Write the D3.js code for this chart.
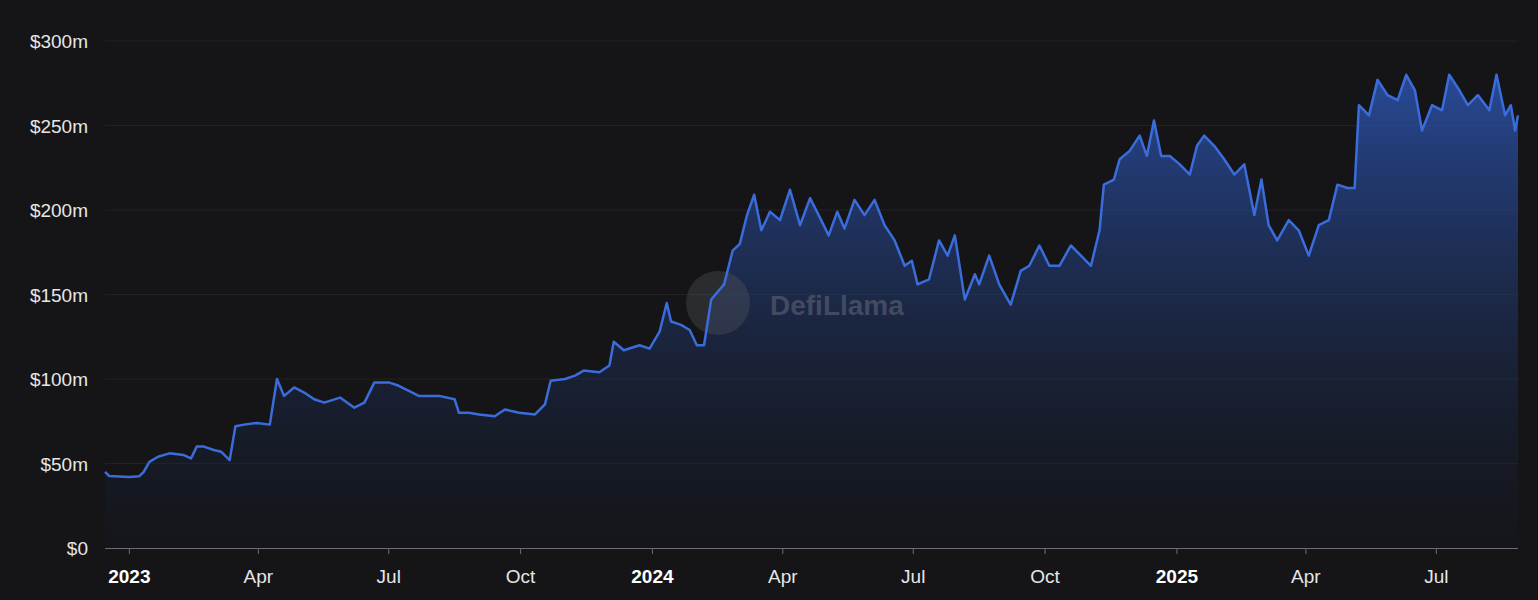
<!DOCTYPE html>
<html><head><meta charset="utf-8">
<script src="https://cdn.jsdelivr.net/npm/d3@7"></script>
<style>body{margin:0;background:#151517;}svg{display:block;font-family:"Liberation Sans","Helvetica",Arial,sans-serif;}</style>
</head><body><svg id="c" width="1538" height="600"></svg>
<script>
const dates=["2022-12-15","2022-12-18","2023-01-01","2023-01-08","2023-01-11","2023-01-15","2023-01-21","2023-01-29","2023-02-08","2023-02-13","2023-02-17","2023-02-22","2023-03-01","2023-03-06","2023-03-12","2023-03-16","2023-03-22","2023-03-31","2023-04-09","2023-04-14","2023-04-19","2023-04-26","2023-05-03","2023-05-10","2023-05-17","2023-05-28","2023-06-07","2023-06-14","2023-06-21","2023-07-01","2023-07-08","2023-07-15","2023-07-22","2023-08-05","2023-08-16","2023-08-19","2023-08-26","2023-09-02","2023-09-13","2023-09-20","2023-09-30","2023-10-11","2023-10-18","2023-10-22","2023-11-01","2023-11-08","2023-11-14","2023-11-25","2023-12-02","2023-12-05","2023-12-12","2023-12-23","2023-12-30","2024-01-06","2024-01-11","2024-01-14","2024-01-21","2024-01-27","2024-02-01","2024-02-06","2024-02-11","2024-02-15","2024-02-20","2024-02-26","2024-03-02","2024-03-07","2024-03-12","2024-03-17","2024-03-23","2024-03-30","2024-04-06","2024-04-13","2024-04-20","2024-04-26","2024-05-03","2024-05-09","2024-05-14","2024-05-21","2024-05-28","2024-06-04","2024-06-11","2024-06-18","2024-06-25","2024-06-30","2024-07-04","2024-07-12","2024-07-19","2024-07-25","2024-07-30","2024-08-06","2024-08-13","2024-08-16","2024-08-23","2024-08-30","2024-09-07","2024-09-14","2024-09-20","2024-09-27","2024-10-04","2024-10-11","2024-10-19","2024-10-26","2024-11-02","2024-11-08","2024-11-11","2024-11-18","2024-11-22","2024-11-29","2024-12-06","2024-12-11","2024-12-16","2024-12-21","2024-12-27","2025-01-03","2025-01-10","2025-01-15","2025-01-20","2025-01-27","2025-02-03","2025-02-10","2025-02-17","2025-02-24","2025-03-01","2025-03-06","2025-03-12","2025-03-20","2025-03-27","2025-04-03","2025-04-10","2025-04-17","2025-04-23","2025-04-30","2025-05-05","2025-05-08","2025-05-15","2025-05-21","2025-05-28","2025-06-04","2025-06-10","2025-06-16","2025-06-21","2025-06-28","2025-07-05","2025-07-10","2025-07-17","2025-07-23","2025-07-30","2025-08-07","2025-08-12","2025-08-18","2025-08-22","2025-08-25","2025-08-27"];
const tvl=[45,42.6,42,42.5,45,51,54,56,55,53,60,60,58,57,52,72,73,74,73,100,90,95,92,88,86,89,83,86,98,98,96,93,90,90,88,80,80,79,78,82,80,79,85,99,100,102,105,104,108,122,117,120,118,128,145,134,132,129,120,120,147,151,156,176,180,197,209,188,199,194,212,191,207,197,185,199,189,206,197,206,191,182,167,170,156,159,182,173,185,147,162,156,173,156,144,164,167,179,167,167,179,173,167,188,215,218,230,235,244,232,253,232,232,227,221,238,244,238,230,221,227,197,218,191,182,194,188,173,191,194,215,213,213,262,256,277,268,265,280,271,247,262,259,280,271,262,268,259,280,256,262,247,256];
const yTicks=[0,50,100,150,200,250,300];
const yLabels=["$0","$50m","$100m","$150m","$200m","$250m","$300m"];
const xTicks=["2023-01-01","2023-04-01","2023-07-01","2023-10-01","2024-01-01","2024-04-01","2024-07-01","2024-10-01","2025-01-01","2025-04-01","2025-07-01"];
const xLabels=["2023","Apr","Jul","Oct","2024","Apr","Jul","Oct","2025","Apr","Jul"];

const p=d3.utcParse("%Y-%m-%d");
const data=dates.map((d,i)=>({d:p(d),v:tvl[i]}));
const svg=d3.select("#c");
const x=d3.scaleUtc().domain(d3.extent(data,d=>d.d)).range([105,1518]);
const y=d3.scaleLinear().domain([0,300]).range([548,41]);

const defs=svg.append("defs");
const g=defs.append("linearGradient").attr("id","gr").attr("x1",0).attr("y1",0).attr("x2",0).attr("y2",1);
g.append("stop").attr("offset","0%").attr("stop-color","#2f5bc0").attr("stop-opacity",0.75);
g.append("stop").attr("offset","100%").attr("stop-color","#141a2a").attr("stop-opacity",0.2);

yTicks.forEach((t,i)=>{
  svg.append("line").attr("x1",105).attr("x2",1518).attr("y1",y(t)).attr("y2",y(t)).attr("stroke","#2a2b30").attr("stroke-width",1).attr("opacity",i?0.6:0);
  svg.append("text").attr("x",88).attr("y",y(t)+7).attr("text-anchor","end").attr("fill","#e6e6e6").attr("font-size",19).text(yLabels[i]);
});

svg.append("path").datum(data).attr("fill","url(#gr)").attr("d",d3.area().x(d=>x(d.d)).y0(y(0)).y1(d=>y(d.v)));

const wm=svg.append("g").attr("opacity",0.35);
wm.append("circle").attr("cx",718).attr("cy",303).attr("r",32).attr("fill","#55585f");
wm.append("text").attr("x",770).attr("y",315).attr("fill","#8a8d94").attr("font-size",28).attr("font-weight",700).text("DefiLlama");

svg.append("path").datum(data).attr("fill","none").attr("stroke","#3a6ddb").attr("stroke-width",2.5).attr("stroke-linejoin","round")
  .attr("d",d3.line().x(d=>x(d.d)).y(d=>y(d.v)));

svg.append("line").attr("x1",105).attr("x2",1518).attr("y1",548.5).attr("y2",548.5).attr("stroke","#6b6e75");
xTicks.forEach((t,i)=>{
  const xx=x(p(t));
  svg.append("line").attr("x1",xx).attr("x2",xx).attr("y1",548).attr("y2",554).attr("stroke","#6b6e75");
  const bold=/^\d{4}$/.test(xLabels[i]);
  svg.append("text").attr("x",xx).attr("y",583).attr("text-anchor","middle").attr("fill",bold?"#ffffff":"#e6e6e6")
    .attr("font-size",19).attr("font-weight",bold?700:400).text(xLabels[i]);
});
</script></body></html>
